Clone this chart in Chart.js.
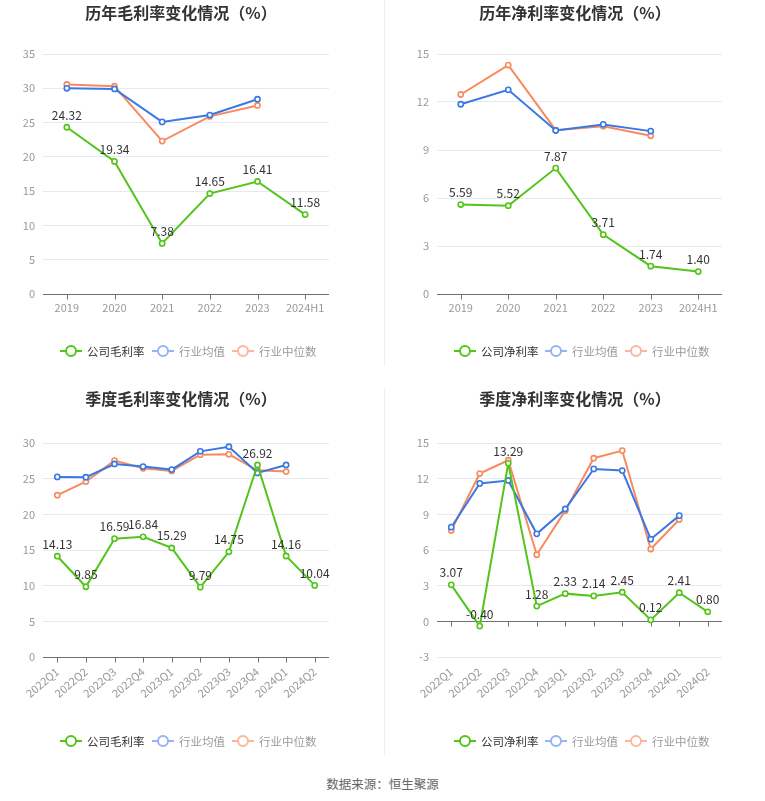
<!DOCTYPE html>
<html>
<head>
<meta charset="utf-8">
<script src="https://cdn.jsdelivr.net/npm/chart.js@4.4.1/dist/chart.umd.min.js"></script>
<style>
  html, body { margin:0; padding:0; background:#fff; }
  #wrap { position:relative; width:765px; height:801px; overflow:hidden; font-family:"Noto Sans CJK SC","Noto Sans",sans-serif; }
  canvas { position:absolute; }
  .div { position:absolute; left:384px; width:1px; background:#eeeeee; }
  #footer { position:absolute; left:0; width:765px; top:774px; text-align:center; font-size:12.5px; color:#666; }
</style>
</head>
<body>
<div id="wrap">
  <canvas id="c1" width="383" height="375" style="left:0;top:0"></canvas>
  <canvas id="c2" width="380" height="375" style="left:385px;top:0"></canvas>
  <canvas id="c3" width="383" height="380" style="left:0;top:385px"></canvas>
  <canvas id="c4" width="380" height="380" style="left:385px;top:385px"></canvas>
  <div class="div" style="top:0;height:366px"></div>
  <div class="div" style="top:388px;height:367px"></div>
  <div id="footer">数据来源：恒生聚源</div>
</div>
<script>
// ---- data ----
const years = ['2019','2020','2021','2022','2023','2024H1'];
const quarters = ['2022Q1','2022Q2','2022Q3','2022Q4','2023Q1','2023Q2','2023Q3','2023Q4','2024Q1','2024Q2'];

const annualGross    = [24.32, 19.34, 7.38, 14.65, 16.41, 11.58];
const annualGrossAvg = [30.00, 29.90, 25.10, 26.10, 28.40, null];
const annualGrossMed = [30.55, 30.30, 22.30, 25.90, 27.50, null];

const annualNet    = [5.59, 5.52, 7.87, 3.71, 1.74, 1.40];
const annualNetAvg = [11.86, 12.76, 10.22, 10.60, 10.18, null];
const annualNetMed = [12.47, 14.31, 10.24, 10.49, 9.89, null];

const qGross    = [14.13, 9.85, 16.59, 16.84, 15.29, 9.79, 14.75, 26.92, 14.16, 10.04];
const qGrossAvg = [25.25, 25.20, 27.06, 26.69, 26.27, 28.83, 29.48, 25.80, 26.92, null];
const qGrossMed = [22.68, 24.59, 27.53, 26.46, 26.08, 28.37, 28.41, 26.18, 25.99, null];

const qNet    = [3.07, -0.40, 13.29, 1.28, 2.33, 2.14, 2.45, 0.12, 2.41, 0.80];
const qNetAvg = [7.92, 11.60, 11.85, 7.36, 9.45, 12.82, 12.68, 6.91, 8.89, null];
const qNetMed = [7.64, 12.43, 13.55, 5.60, 9.31, 13.72, 14.36, 6.08, 8.56, null];

const FONT = '"Noto Sans CJK SC","Noto Sans",sans-serif';
const GREEN = '#52c41a', BLUE = '#3a78e6', ORANGE = '#f88a5e';
const LEG_BLUE = '#94b4f2', LEG_ORANGE = '#fbb69b';

function makeChart(id, o) {
  const canvas = document.getElementById(id);
  const W = canvas.width, H = canvas.height;
  const a = o.area;
  const ds = (data, color) => ({
    data, borderColor: color, backgroundColor: '#fff',
    borderWidth: 2, pointRadius: 2.6, pointHoverRadius: 2.6,
    pointBorderWidth: 1.6, pointBackgroundColor: '#fff', pointBorderColor: color,
    tension: 0, spanGaps: false, clip: false
  });
  const decor = {
    id: 'decor',
    beforeDatasetsDraw(chart) {
      const ctx = chart.ctx, xs = chart.scales.x, ys = chart.scales.y, ca = chart.chartArea;
      const y0 = Math.round(ys.getPixelForValue(Math.max(o.min, 0))) + 0.5;
      ctx.save();
      ctx.strokeStyle = '#6e7079'; ctx.lineWidth = 1;
      ctx.beginPath(); ctx.moveTo(ca.left, y0); ctx.lineTo(ca.right, y0); ctx.stroke();
      for (let i = 0; i < o.labels.length; i++) {
        const x = Math.round(xs.getPixelForValue(i)) + 0.5;
        ctx.beginPath(); ctx.moveTo(x, y0); ctx.lineTo(x, y0 + 5); ctx.stroke();
      }
      ctx.restore();
    },
    afterDatasetsDraw(chart) {
      const ctx = chart.ctx;
      ctx.save();
      // data labels
      const meta = chart.getDatasetMeta(0);
      ctx.font = '12px ' + FONT; ctx.fillStyle = '#333'; ctx.textAlign = 'center'; ctx.textBaseline = 'bottom';
      meta.data.forEach((p, i) => {
        const v = o.series[0][i];
        if (v == null) return;
        ctx.fillText(v.toFixed(2), p.x, p.y - 6);
      });
      // title
      ctx.font = 'bold 16px ' + FONT; ctx.fillStyle = '#333'; ctx.textBaseline = 'middle';
      ctx.fillText(o.title, o.titleX, o.titleY);
      // legend
      const items = [
        { name: o.names[0], color: GREEN, text: '#333' },
        { name: o.names[1], color: LEG_BLUE, text: '#999' },
        { name: o.names[2], color: LEG_ORANGE, text: '#999' }
      ];
      ctx.font = '11.5px ' + FONT; ctx.textAlign = 'left';
      const ly = o.legendY;
      items.forEach((it, k) => {
        const lx = o.legendX[k];
        ctx.strokeStyle = it.color; ctx.lineWidth = 2;
        ctx.beginPath(); ctx.moveTo(lx, ly); ctx.lineTo(lx + 22, ly); ctx.stroke();
        ctx.beginPath(); ctx.arc(lx + 11, ly, 5, 0, Math.PI * 2);
        ctx.fillStyle = '#fff'; ctx.fill(); ctx.stroke();
        ctx.fillStyle = it.text;
        ctx.fillText(it.name, lx + 27, ly + 0.5);
      });
      ctx.restore();
    }
  };
  return new Chart(canvas, {
    type: 'line',
    data: {
      labels: o.labels,
      datasets: [ds(o.series[0], GREEN), ds(o.series[1], BLUE), ds(o.series[2], ORANGE)]
    },
    options: {
      responsive: false, animation: false, devicePixelRatio: 1,
      layout: { padding: { left: 0, right: W - a.right, top: a.top, bottom: 0 } },
      plugins: { legend: { display: false }, title: { display: false }, tooltip: { enabled: false } },
      scales: {
        x: {
          type: 'category', offset: true,
          grid: { display: false, drawTicks: false },
          border: { display: false },
          ticks: {
            color: '#999', font: { size: 11, family: FONT }, padding: o.rotate ? 8 : 7,
            autoSkip: false, minRotation: o.rotate || 0, maxRotation: o.rotate || 0
          },
          afterFit(s) { s.height = H - a.bottom; }
        },
        y: {
          min: o.min, max: o.max,
          grid: { color: '#e6e9f1', drawTicks: false, lineWidth: 1 },
          border: { display: false },
          ticks: { stepSize: o.step, color: '#999', font: { size: 11, family: FONT }, padding: 8 },
          afterFit(s) { s.width = a.left; }
        }
      }
    },
    plugins: [decor]
  });
}

makeChart('c1', {
  labels: years, series: [annualGross, annualGrossAvg, annualGrossMed],
  names: ['公司毛利率', '行业均值', '行业中位数'],
  min: 0, max: 35, step: 5,
  area: { left: 43, right: 329, top: 54, bottom: 294 },
  title: '历年毛利率变化情况（%）', titleX: 181, titleY: 13,
  legendX: [60, 152, 232], legendY: 351
});
makeChart('c2', {
  labels: years, series: [annualNet, annualNetAvg, annualNetMed],
  names: ['公司净利率', '行业均值', '行业中位数'],
  min: 0, max: 15, step: 3,
  area: { left: 52, right: 337, top: 54, bottom: 294 },
  title: '历年净利率变化情况（%）', titleX: 190, titleY: 13,
  legendX: [69, 160, 240], legendY: 351
});
makeChart('c3', {
  labels: quarters, series: [qGross, qGrossAvg, qGrossMed],
  names: ['公司毛利率', '行业均值', '行业中位数'],
  min: 0, max: 30, step: 5, rotate: 40,
  area: { left: 43, right: 329, top: 58, bottom: 272 },
  title: '季度毛利率变化情况（%）', titleX: 181, titleY: 14,
  legendX: [60, 152, 232], legendY: 356
});
makeChart('c4', {
  labels: quarters, series: [qNet, qNetAvg, qNetMed],
  names: ['公司净利率', '行业均值', '行业中位数'],
  min: -3, max: 15, step: 3, rotate: 40,
  area: { left: 52, right: 337, top: 58, bottom: 272 },
  title: '季度净利率变化情况（%）', titleX: 190, titleY: 14,
  legendX: [69, 160, 240], legendY: 356
});
</script>
</body>
</html>
